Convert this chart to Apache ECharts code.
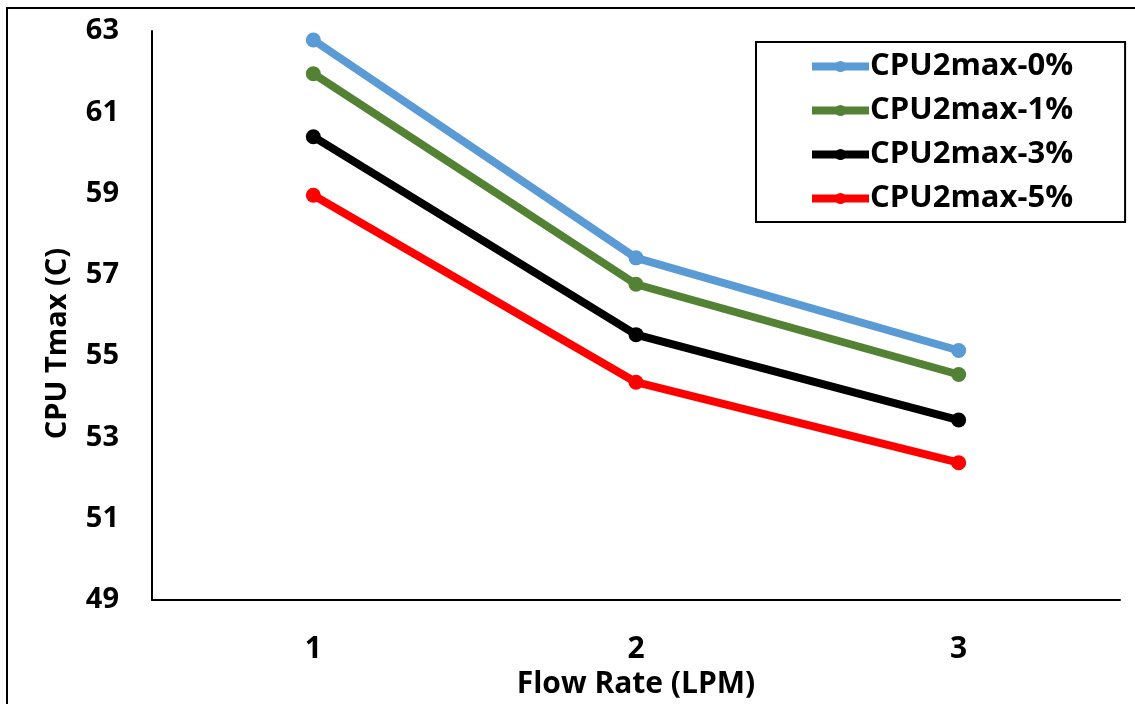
<!DOCTYPE html>
<html>
<head>
<meta charset="utf-8">
<script src="https://cdn.jsdelivr.net/npm/echarts@6/dist/echarts.min.js"></script>
<style>
  html, body { margin: 0; padding: 0; background: #fff; }
  #main { width: 1135px; height: 704px; }
</style>
</head>
<body>
<div id="main"></div>
<script>
// 数据
var flowRates = ['1', '2', '3'];
var seriesNames = ['CPU2max-0%', 'CPU2max-1%', 'CPU2max-3%', 'CPU2max-5%'];
var cpu0 = [62.78, 57.42, 55.14];
var cpu1 = [61.95, 56.77, 54.55];
var cpu3 = [60.40, 55.53, 53.43];
var cpu5 = [58.96, 54.36, 52.38];
var yTicks = [49, 51, 53, 55, 57, 59, 61, 63];

(function(){
    var myChart = echarts.init(document.getElementById('main'));
    var font = '"Open Sans", sans-serif';
    var allData = [cpu0, cpu1, cpu3, cpu5];
    var option = {
        color: ['#5B9BD5', '#548235', '#000000', '#FF0000'],
        textStyle: { fontFamily: font },
        animation: false,
        // 外框
        graphic: [{
            type: 'rect',
            shape: { x: 7, y: 8, width: 1300, height: 900 },
            style: { fill: 'none', stroke: '#000', lineWidth: 2 },
            z: -1
        }],
        legend: {
            orient: 'vertical',
            left: 756,
            top: 42,
            padding: [9, 52, 8, 52],
            itemGap: 13,
            itemWidth: 57,
            itemHeight: 14,
            lineStyle: { width: 8 },
            borderColor: '#000',
            borderWidth: 2,
            data: seriesNames,
            textStyle: {
                color: '#000',
                fontSize: 31,
                fontWeight: 'bold',
                fontFamily: font,
                padding: [0, 0, 0, -4]
            }
        },
        grid: {
            left: 152,
            top: 31,
            right: 15,
            bottom: 98
        },
        xAxis: {
            type: 'category',
            data: flowRates,
            name: 'Flow Rate (LPM)',
            nameLocation: 'middle',
            nameGap: 62,
            nameTextStyle: { color: '#000', fontSize: 30, fontWeight: 'bold', fontFamily: font },
            axisTick: { show: false },
            axisLine: { lineStyle: { color: '#000', width: 2 } },
            axisLabel: { color: '#000', fontSize: 30, fontWeight: 'bold', margin: 34, fontFamily: font }
        },
        yAxis: {
            type: 'value',
            min: yTicks[0],
            max: yTicks[yTicks.length - 1],
            interval: 2,
            name: 'CPU Tmax (C)',
            nameLocation: 'middle',
            nameGap: 80,
            nameTextStyle: { color: '#000', fontSize: 29, fontWeight: 'bold', fontFamily: font, padding: [0, 0, 0, -56] },
            axisTick: { show: false },
            splitLine: { show: false },
            axisLine: { show: true, lineStyle: { color: '#000', width: 2 } },
            axisLabel: { color: '#000', fontSize: 29, fontWeight: 'bold', margin: 33, fontFamily: font }
        },
        series: seriesNames.map(function(n, i){
            return {
                name: n,
                type: 'line',
                data: allData[i],
                symbol: 'circle',
                symbolSize: 15,
                lineStyle: { width: 8 }
            };
        })
    };
    myChart.setOption(option);
})();
</script>
</body>
</html>
